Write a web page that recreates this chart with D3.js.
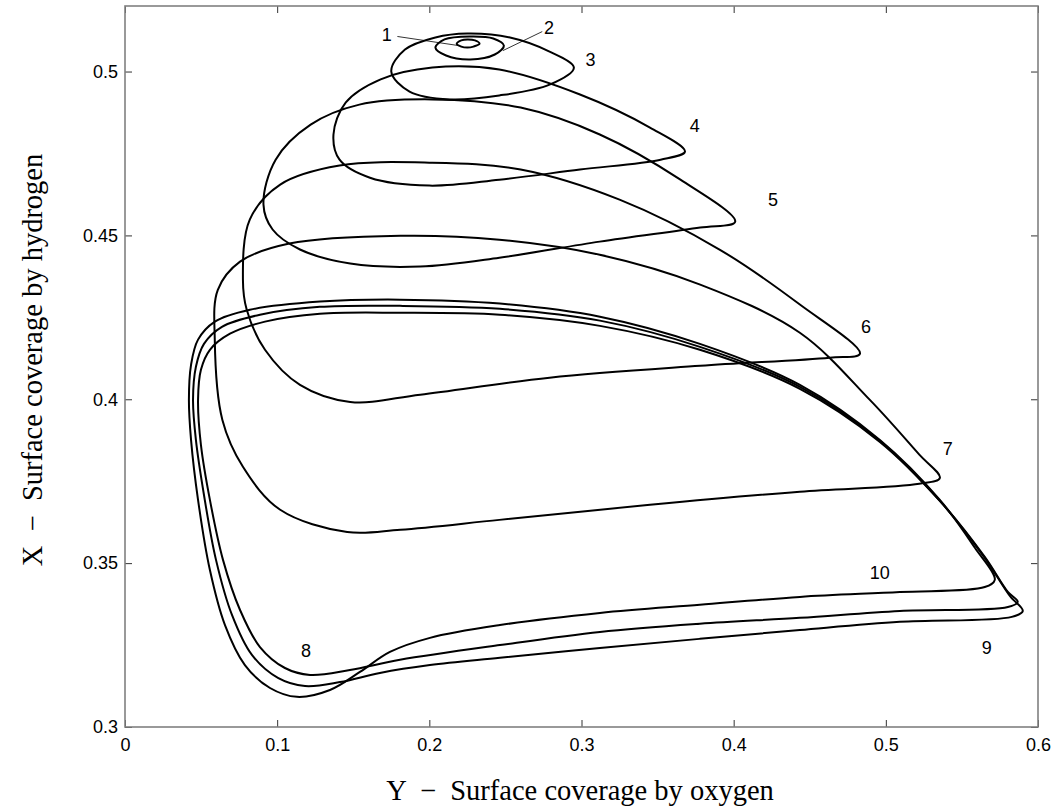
<!DOCTYPE html>
<html>
<head>
<meta charset="utf-8">
<script src="https://cdn.jsdelivr.net/npm/d3@7"></script>
<style>
  body { margin: 0; background: #fff; }
  .tick text { font-family: "Liberation Sans", Arial, sans-serif; font-size: 18px; fill: #000; }
  .axlab { font-family: "Liberation Serif", "Times New Roman", serif; font-size: 28.5px; fill: #000; }
  .lab { font-family: "Liberation Sans", Arial, sans-serif; font-size: 18px; fill: #000; }
</style>
</head>
<body>
<script>
// ticks
var xTicks = [0, 0.1, 0.2, 0.3, 0.4, 0.5, 0.6];
var xTickLabels = ["0", "0.1", "0.2", "0.3", "0.4", "0.5", "0.6"];
var yTicks = [0.3, 0.35, 0.4, 0.45, 0.5];
var yTickLabels = ["0.3", "0.35", "0.4", "0.45", "0.5"];

// trajectory loops [Y oxygen, X hydrogen]
var loop1 = [[0.218,0.5085],[0.221,0.5095],[0.225,0.5098],[0.230,0.5095],[0.233,0.5085],[0.229,0.5076],[0.225,0.5073],[0.221,0.5076]];
var loop2 = [[0.204,0.5073],[0.210,0.5098],[0.227,0.5107],[0.242,0.5101],[0.249,0.5079],[0.243,0.5052],[0.227,0.5037],[0.211,0.5049]];
var loop3 = [[0.175,0.5000],[0.184,0.5067],[0.204,0.5104],[0.225,0.5116],[0.253,0.5104],[0.279,0.5061],[0.295,0.5012],[0.279,0.4960],[0.246,0.4927],[0.2135,0.4915],[0.187,0.4939]];
var loop4 = [[0.137,0.4808],[0.145,0.4905],[0.168,0.4976],[0.202,0.5012],[0.246,0.5006],[0.299,0.4930],[0.345,0.4829],[0.368,0.4756],[0.352,0.4731],[0.299,0.4701],[0.246,0.4670],[0.200,0.4652],[0.161,0.4676],[0.141,0.4731]];
var loop5 = [[0.091,0.4594],[0.099,0.4731],[0.122,0.4838],[0.154,0.4899],[0.202,0.4915],[0.260,0.4890],[0.312,0.4808],[0.365,0.4670],[0.401,0.4542],[0.378,0.4524],[0.312,0.4481],[0.246,0.4432],[0.194,0.4405],[0.148,0.4414],[0.115,0.4457],[0.097,0.4518]];
var loop6 = [[0.0775,0.4365],[0.082,0.4548],[0.102,0.4655],[0.141,0.4713],[0.200,0.4722],[0.260,0.4701],[0.325,0.4609],[0.391,0.4456],[0.4435,0.4289],[0.483,0.4139],[0.463,0.4127],[0.378,0.4102],[0.279,0.4066],[0.194,0.4014],[0.148,0.3992],[0.115,0.4044],[0.092,0.4151],[0.080,0.4273]];
var loop7 = [[0.059,0.4182],[0.061,0.4334],[0.0756,0.4420],[0.108,0.4475],[0.181,0.4499],[0.246,0.4487],[0.312,0.4441],[0.378,0.4350],[0.4435,0.4203],[0.4895,0.3998],[0.522,0.3831],[0.5355,0.3760],[0.522,0.3742],[0.4435,0.3718],[0.345,0.3678],[0.246,0.3632],[0.181,0.3602],[0.146,0.3595],[0.102,0.3663],[0.0775,0.3794],[0.064,0.3937]];
var loop8 = [[0.5867,0.3382],[0.5802,0.3412],[0.565,0.3519],[0.5355,0.369],[0.4961,0.387],[0.4435,0.4032],[0.3778,0.4151],[0.3121,0.4224],[0.2464,0.4258],[0.1807,0.4264],[0.1281,0.4261],[0.092,0.4237],[0.069,0.42],[0.0558,0.4151],[0.0499,0.409],[0.048,0.3998],[0.0499,0.3861],[0.0558,0.3693],[0.0644,0.351],[0.0756,0.3357],[0.0887,0.3244],[0.1051,0.318],[0.1216,0.3159],[0.1478,0.3174],[0.1807,0.3205],[0.2464,0.325],[0.3121,0.329],[0.3778,0.3315],[0.4435,0.3333],[0.5092,0.3354],[0.5802,0.3366]];
var loop9 = [[0.59,0.3354],[0.5815,0.34],[0.565,0.3516],[0.5355,0.369],[0.4961,0.3873],[0.4435,0.4038],[0.3778,0.416],[0.3121,0.424],[0.2464,0.4276],[0.1807,0.4285],[0.1281,0.4282],[0.0887,0.4258],[0.0637,0.4221],[0.0519,0.4169],[0.0466,0.4099],[0.0447,0.3998],[0.0466,0.3876],[0.0519,0.3708],[0.0598,0.351],[0.0703,0.3342],[0.0834,0.322],[0.1005,0.315],[0.1183,0.3125],[0.1413,0.3137],[0.1675,0.3165],[0.2004,0.3189],[0.2464,0.3211],[0.3121,0.3241],[0.3778,0.3269],[0.4435,0.3296],[0.5092,0.3321],[0.5828,0.3336]];
var loop10 = [[0.5716,0.3449],[0.5585,0.3547],[0.5355,0.3693],[0.4961,0.3876],[0.4435,0.4044],[0.3778,0.4169],[0.3121,0.4252],[0.2464,0.4292],[0.1807,0.4304],[0.1281,0.4298],[0.0821,0.4273],[0.0591,0.4237],[0.048,0.4182],[0.0434,0.4105],[0.042,0.3998],[0.0434,0.3876],[0.048,0.3693],[0.0558,0.3479],[0.0657,0.3311],[0.0788,0.3189],[0.0953,0.3119],[0.113,0.3092],[0.1347,0.3113],[0.1544,0.3168],[0.1741,0.3229],[0.2004,0.3272],[0.2464,0.3311],[0.3121,0.3348],[0.3778,0.3373],[0.4435,0.3397],[0.5092,0.3412],[0.565,0.3427]];
var loops = [loop1, loop2, loop3, loop4, loop5, loop6, loop7, loop8, loop9, loop10];

// loop numbers and where they sit
var loopLabels = ["1", "2", "3", "4", "5", "6", "7", "8", "9", "10"];
var labelPos = [[0.172,0.5113],[0.2786,0.5134],[0.306,0.5037],[0.3745,0.4835],[0.4258,0.4609],[0.4869,0.4221],[0.5407,0.3849],[0.1189,0.3232],[0.5664,0.3241],[0.496,0.3470]];
// leader lines for 1 and 2
var leaders = [[[0.179,0.5107],[0.2195,0.5079]], [[0.2742,0.5122],[0.2484,0.5064]]];

var W = 1055, H = 806;
var svg = d3.select("body").append("svg").attr("width", W).attr("height", H);

var x = d3.scaleLinear().domain([0, 0.6]).range([125, 1038]);
var y = d3.scaleLinear().domain([0.3, 0.52]).range([727, 6]);

// axes, ticks pointing in
svg.append("g").attr("transform", "translate(0,727)")
  .call(d3.axisBottom(x).tickValues(xTicks).tickFormat(function (d, i) { return xTickLabels[i]; })
    .tickSizeInner(-7).tickSizeOuter(0).tickPadding(11));
svg.append("g").attr("transform", "translate(0,6)")
  .call(d3.axisTop(x).tickValues(xTicks).tickFormat("").tickSizeInner(-7).tickSizeOuter(0));
svg.append("g").attr("transform", "translate(125,0)")
  .call(d3.axisLeft(y).tickValues(yTicks).tickFormat(function (d, i) { return yTickLabels[i]; })
    .tickSizeInner(-7).tickSizeOuter(0).tickPadding(7));
svg.append("g").attr("transform", "translate(1038,0)")
  .call(d3.axisRight(y).tickValues(yTicks).tickFormat("").tickSizeInner(-7).tickSizeOuter(0));
svg.selectAll(".domain").remove();
svg.selectAll(".tick line").attr("stroke", "#333");

svg.append("rect").attr("x", 125).attr("y", 6).attr("width", 1038 - 125).attr("height", 727 - 6)
  .attr("fill", "none").attr("stroke", "#808080").attr("stroke-width", 1.6);

var line = d3.line().x(function (d) { return x(d[0]); }).y(function (d) { return y(d[1]); })
  .curve(d3.curveCatmullRomClosed.alpha(0.5));

svg.selectAll("path.loop").data(loops).enter().append("path")
  .attr("class", "loop")
  .attr("d", line)
  .attr("fill", "none").attr("stroke", "#000").attr("stroke-width", 2);

svg.selectAll("line.leader").data(leaders).enter().append("line")
  .attr("x1", function (d) { return x(d[0][0]); }).attr("y1", function (d) { return y(d[0][1]); })
  .attr("x2", function (d) { return x(d[1][0]); }).attr("y2", function (d) { return y(d[1][1]); })
  .attr("stroke", "#000").attr("stroke-width", 0.8);

svg.selectAll("text.lab").data(loopLabels).enter().append("text")
  .attr("class", "lab")
  .attr("x", function (d, i) { return x(labelPos[i][0]); })
  .attr("y", function (d, i) { return y(labelPos[i][1]); })
  .attr("text-anchor", "middle").attr("dy", "0.35em")
  .text(function (d) { return d; });

svg.append("text").attr("class", "axlab")
  .attr("x", 580).attr("y", 800).attr("text-anchor", "middle")
  .style("white-space", "pre")
  .text("Y  \u2212  Surface coverage by oxygen");

svg.append("text").attr("class", "axlab")
  .attr("transform", "translate(42,360) rotate(-90)").attr("text-anchor", "middle")
  .style("white-space", "pre")
  .text("X  \u2212  Surface coverage by hydrogen");
</script>
</body>
</html>
